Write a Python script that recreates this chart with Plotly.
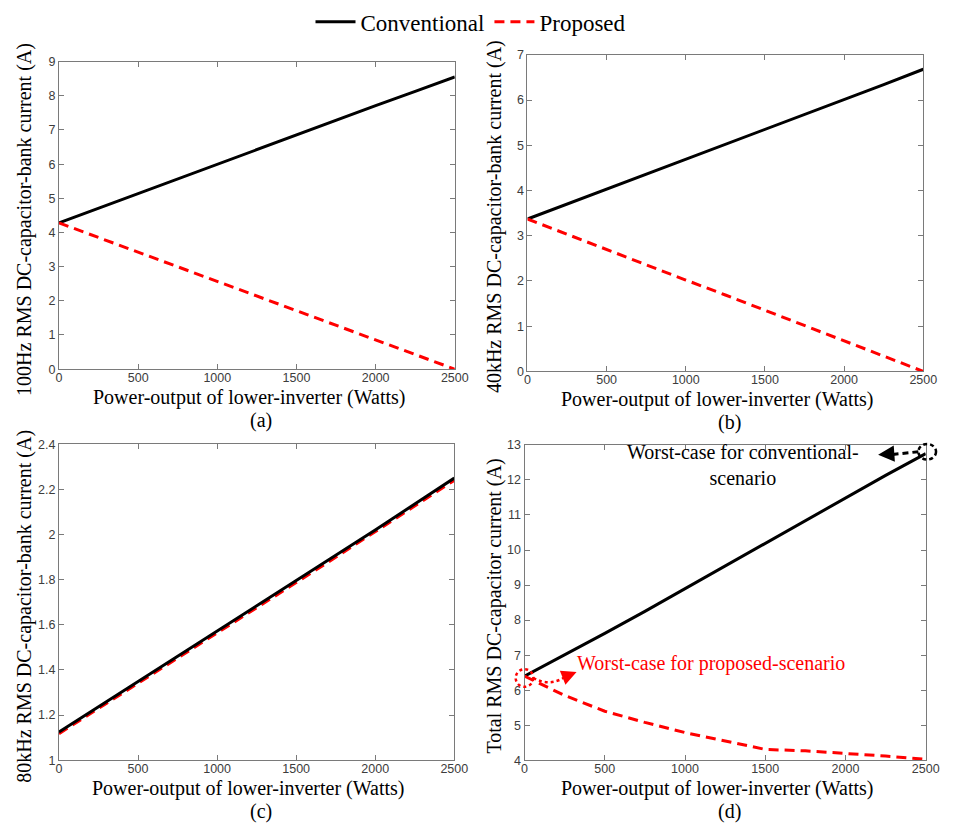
import plotly.graph_objects as go

W, H = 953, 828

# ---------------- data ----------------
power = [0, 250, 500, 750, 1000, 1250, 1500, 1750, 2000, 2250, 2500]

a_conv = [4.28, 4.71, 5.15, 5.57, 6.00, 6.43, 6.86, 7.28, 7.71, 8.13, 8.55]
a_prop = [4.28, 3.85, 3.43, 3.00, 2.57, 2.14, 1.71, 1.28, 0.86, 0.43, 0.00]

b_conv = [3.37, 3.70, 4.03, 4.36, 4.68, 5.01, 5.35, 5.68, 6.00, 6.34, 6.68]
b_prop = [3.37, 3.03, 2.70, 2.36, 2.02, 1.69, 1.35, 1.01, 0.67, 0.34, 0.00]

c_conv = [1.125, 1.237, 1.348, 1.460, 1.572, 1.684, 1.795, 1.907, 2.020, 2.135, 2.25]
c_prop = [1.118, 1.229, 1.340, 1.452, 1.564, 1.676, 1.787, 1.899, 2.012, 2.126, 2.24]

d_conv = [6.40, 7.00, 7.62, 8.25, 8.90, 9.55, 10.20, 10.85, 11.50, 12.13, 12.75]
d_prop = [6.40, 5.85, 5.40, 5.08, 4.79, 4.55, 4.31, 4.27, 4.20, 4.12, 4.03]

y_titles = ["100Hz RMS DC-capacitor-bank current (A)",
            "40kHz RMS DC-capacitor-bank current (A)",
            "80kHz RMS DC-capacitor-bank current (A)",
            "Total RMS DC-capacitor current (A)"]
x_title = "Power-output of lower-inverter (Watts)"
panel_labels = ["(a)", "(b)", "(c)", "(d)"]
y_ranges = [[0, 9], [0, 7], [1, 2.4], [4, 13]]
y_dticks = [1, 1, 0.2, 1]

# ---------------- layout helpers ----------------
def px(x):
    return x / W

def py(y):
    return 1 - y / H

SERIF = "Liberation Serif"
SANS = "Liberation Sans, Arial, sans-serif"
BLACK = "#000000"
RED = "#ff0000"
AX = "#7a7a7a"
TICKC = "#3c3c3c"

# pixel boxes of the four plot areas: (left, right, top, bottom)
boxes = [(57, 460, 52.7, 366.7), (534, 937, 45.7, 369),
         (57, 459.5, 443.3, 766), (531, 939.5, 444, 766)]

fig = go.Figure()

series = [(a_conv, a_prop), (b_conv, b_prop), (c_conv, c_prop), (d_conv, d_prop)]
for i, (conv, prop) in enumerate(series):
    xa = "x" if i == 0 else f"x{i+1}"
    ya = "y" if i == 0 else f"y{i+1}"
    prop_tr = go.Scatter(x=power, y=prop, mode="lines", name="Proposed",
                         line=dict(color=RED, width=3, dash="10px,6px"),
                         xaxis=xa, yaxis=ya, showlegend=(i == 0), legendrank=2)
    conv_tr = go.Scatter(x=power, y=conv, mode="lines", name="Conventional",
                         line=dict(color=BLACK, width=3),
                         xaxis=xa, yaxis=ya, showlegend=(i == 0), legendrank=1)
    if i == 2:
        fig.add_trace(prop_tr)
        fig.add_trace(conv_tr)
    else:
        fig.add_trace(conv_tr)
        fig.add_trace(prop_tr)

layout = dict(
    width=W, height=H,
    margin=dict(l=0, r=0, t=0, b=0),
    paper_bgcolor="white", plot_bgcolor="white",
    font=dict(family=SERIF, color="black"),
    showlegend=True,
    legend=dict(orientation="h", x=0.5, xanchor="center", y=1.012, yanchor="top",
                font=dict(family=SERIF, size=23, color="black"),
                itemwidth=40, bgcolor="rgba(0,0,0,0)", traceorder="normal"),
)

annotations = []
for i, (l, r, t, b) in enumerate(boxes):
    xk = "xaxis" if i == 0 else f"xaxis{i+1}"
    yk = "yaxis" if i == 0 else f"yaxis{i+1}"
    ya = "y" if i == 0 else f"y{i+1}"
    xa = "x" if i == 0 else f"x{i+1}"
    layout[xk] = dict(domain=[px(l), px(r)], anchor=ya, range=[0, 2500], dtick=500,
                      tick0=0, showgrid=False, zeroline=False, showline=True,
                      linecolor=AX, linewidth=1, mirror="ticks", ticks="inside",
                      ticklen=5, tickcolor=AX, ticklabelstandoff=-3,
                      tickfont=dict(family=SANS, size=12.5, color=TICKC))
    layout[yk] = dict(domain=[py(b), py(t)], anchor=xa, range=y_ranges[i],
                      dtick=y_dticks[i], showgrid=False, zeroline=False, showline=True,
                      linecolor=AX, linewidth=1, mirror="ticks", ticks="inside",
                      ticklen=5, tickcolor=AX,
                      tickfont=dict(family=SANS, size=12.5, color=TICKC))
    cx = (l + r) / 2
    # x title and panel label
    annotations.append(dict(text=x_title, x=px(cx - 8), y=py(b + 29), xref="paper",
                            yref="paper", showarrow=False, xanchor="center",
                            yanchor="middle", font=dict(family=SERIF, size=20, color="black")))
    annotations.append(dict(text=panel_labels[i], x=px(cx + 4), y=py(b + 52), xref="paper",
                            yref="paper", showarrow=False, xanchor="center",
                            yanchor="middle", font=dict(family=SERIF, size=20, color="black")))
    # y title
    ytx = 22 if i % 2 == 0 else 500
    annotations.append(dict(text=y_titles[i], x=px(ytx), y=py((t + b) / 2 + 4), xref="paper",
                            yref="paper", showarrow=False, textangle=-90, xanchor="center",
                            yanchor="middle", font=dict(family=SERIF, size=20, color="black")))

# ---------------- panel (d) call-outs ----------------
annotations.append(dict(text="Worst-case for conventional-<br>scenario", x=px(753), y=py(465),
                        xref="paper", yref="paper", showarrow=False, xanchor="center",
                        yanchor="middle", align="center",
                        font=dict(family=SERIF, size=20, color="black")))
annotations.append(dict(text="Worst-case for proposed-scenario", x=px(582), y=py(667),
                        xref="paper", yref="paper", showarrow=False, xanchor="left",
                        yanchor="middle", font=dict(family=SERIF, size=20, color=RED)))
# arrow heads
annotations.append(dict(text="", x=px(891), y=py(454), xref="paper", yref="paper",
                        showarrow=True, ax=14, ay=-1, arrowhead=2, arrowsize=1.3,
                        arrowwidth=2.5, arrowcolor="black", standoff=0))
annotations.append(dict(text="", x=px(584), y=py(676), xref="paper", yref="paper",
                        showarrow=True, ax=-10, ay=4, arrowhead=2, arrowsize=1.2,
                        arrowwidth=2.5, arrowcolor=RED, standoff=0))
layout["annotations"] = annotations

shapes = []
# black dashed ellipse + dashed tail
shapes.append(dict(type="circle", xref="paper", yref="paper",
                   x0=px(932), x1=px(950), y0=py(443), y1=py(459),
                   line=dict(color="black", width=2.5, dash="4px,3px")))
shapes.append(dict(type="line", xref="paper", yref="paper",
                   x0=px(932), y0=py(451), x1=px(904), y1=py(454),
                   line=dict(color="black", width=3, dash="6px,4px")))
# red dotted ellipse + curved dotted tail
shapes.append(dict(type="circle", xref="paper", yref="paper",
                   x0=px(522), x1=px(540), y0=py(673), y1=py(691),
                   line=dict(color=RED, width=2.5, dash="3px,3px")))
p0 = (px(540), py(682))
pc = (px(558), py(692))
p1 = (px(575), py(679))
shapes.append(dict(type="path", xref="paper", yref="paper",
                   path=f"M {p0[0]},{p0[1]} Q {pc[0]},{pc[1]} {p1[0]},{p1[1]}",
                   line=dict(color=RED, width=2.5, dash="3px,3px")))
layout["shapes"] = shapes

fig.update_layout(**layout)
fig.write_html("out.html")
